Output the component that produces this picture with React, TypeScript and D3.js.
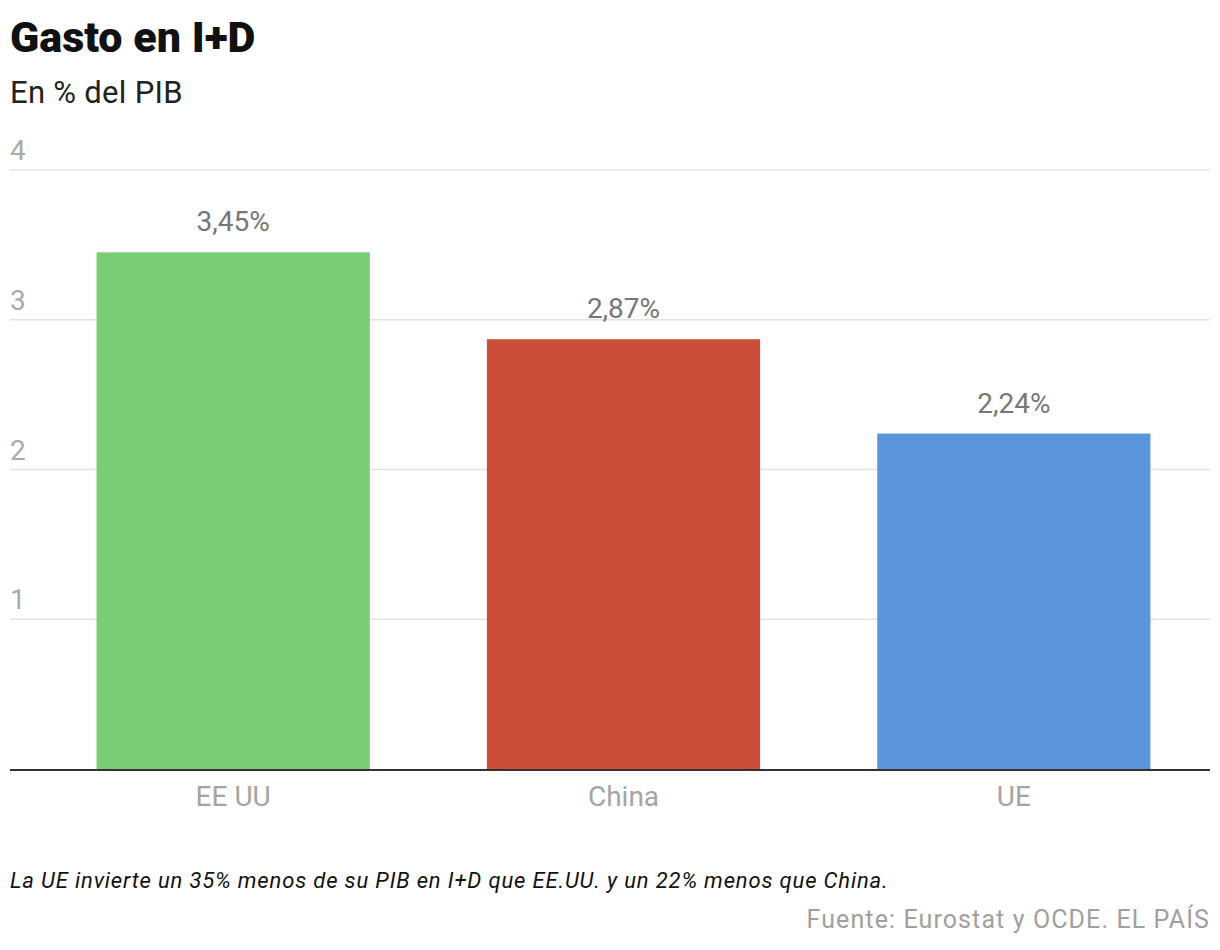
import * as d3 from 'd3';
import React, { useEffect, useRef } from 'react';

// chart data
const categories = ['EE UU', 'China', 'UE'];
const values = [3.45, 2.87, 2.24];
const valueLabels = ['3,45%', '2,87%', '2,24%'];
const barColors = ['#78cd74', '#cb4e3a', '#5c96da'];
const yTicks = [1, 2, 3, 4];

const WIDTH = 1220;
const HEIGHT = 950;
const FONT = 'Roboto, "Noto Sans", sans-serif';

export default function App() {
  const svgRef = useRef<SVGSVGElement>(null);

  useEffect(() => {
    if (!svgRef.current) return;
    const svg = d3.select(svgRef.current);
    svg.selectAll('*').remove();

    const left = 10;
    const right = 1210;
    const top = 170;
    const bottom = 769;

    const y = d3.scaleLinear().domain([0, 4]).range([bottom, top]);
    const x = d3.scaleBand<string>()
      .domain(categories)
      .range([38, 1209])
      .paddingInner(0.3)
      .paddingOuter(0.15);

    // title + subtitle
    svg.append('text')
      .attr('x', left)
      .attr('y', 52)
      .style('font-family', FONT)
      .style('font-weight', 900)
      .style('font-size', '43px')
      .attr('fill', '#111')
      .text('Gasto en I+D');

    svg.append('text')
      .attr('x', left)
      .attr('y', 103)
      .style('font-family', FONT)
      .style('font-size', '31px')
      .style('letter-spacing', '0.3px')
      .attr('fill', '#222')
      .text('En % del PIB');

    // grid lines and tick labels
    const grid = svg.append('g');
    yTicks.forEach(t => {
      grid.append('line')
        .attr('x1', left)
        .attr('x2', right)
        .attr('y1', y(t))
        .attr('y2', y(t))
        .attr('stroke', '#e3e3e3')
        .attr('stroke-width', 1.5);
      grid.append('text')
        .attr('x', left)
        .attr('y', y(t) - 10)
        .style('font-family', FONT)
        .style('font-size', '28px')
        .attr('fill', '#aaa')
        .text(String(t));
    });

    // bars
    svg.append('g')
      .selectAll('rect')
      .data(categories)
      .join('rect')
      .attr('x', d => x(d) || 0)
      .attr('width', x.bandwidth())
      .attr('y', (d, i) => y(values[i]))
      .attr('height', (d, i) => bottom - y(values[i]))
      .attr('fill', (d, i) => barColors[i]);

    // value labels
    svg.append('g')
      .selectAll('text')
      .data(categories)
      .join('text')
      .attr('x', d => (x(d) || 0) + x.bandwidth() / 2)
      .attr('y', (d, i) => y(values[i]) - 21)
      .attr('text-anchor', 'middle')
      .style('font-family', FONT)
      .style('font-size', '28px')
      .attr('fill', '#777')
      .text((d, i) => valueLabels[i]);

    // baseline
    svg.append('line')
      .attr('x1', left)
      .attr('x2', right)
      .attr('y1', bottom + 1)
      .attr('y2', bottom + 1)
      .attr('stroke', '#333')
      .attr('stroke-width', 2);

    // category axis
    const xAxis = svg.append('g')
      .attr('transform', `translate(0,${bottom + 1})`)
      .call(d3.axisBottom(x).tickSize(0).tickPadding(36));
    xAxis.select('.domain').remove();
    xAxis.selectAll('text')
      .attr('dy', 0)
      .style('font-family', FONT)
      .style('font-size', '28px')
      .attr('fill', '#a5a5a5');

    // notes
    svg.append('text')
      .attr('x', left)
      .attr('y', 888)
      .style('font-family', FONT)
      .style('font-style', 'italic')
      .style('font-size', '22px')
      .style('letter-spacing', '0.85px')
      .attr('fill', '#111')
      .text('La UE invierte un 35% menos de su PIB en I+D que EE.UU. y un 22% menos que China.');

    svg.append('text')
      .attr('x', right)
      .attr('y', 928)
      .attr('text-anchor', 'end')
      .style('font-family', FONT)
      .style('font-size', '25px')
      .style('letter-spacing', '1.1px')
      .attr('fill', '#a0a0a0')
      .text('Fuente: Eurostat y OCDE. EL PAÍS');
  }, []);

  return (
    <svg
      ref={svgRef}
      width={WIDTH}
      height={HEIGHT}
      style={{ position: 'absolute', left: 0, top: 0, background: '#fff' }}
    />
  );
}
